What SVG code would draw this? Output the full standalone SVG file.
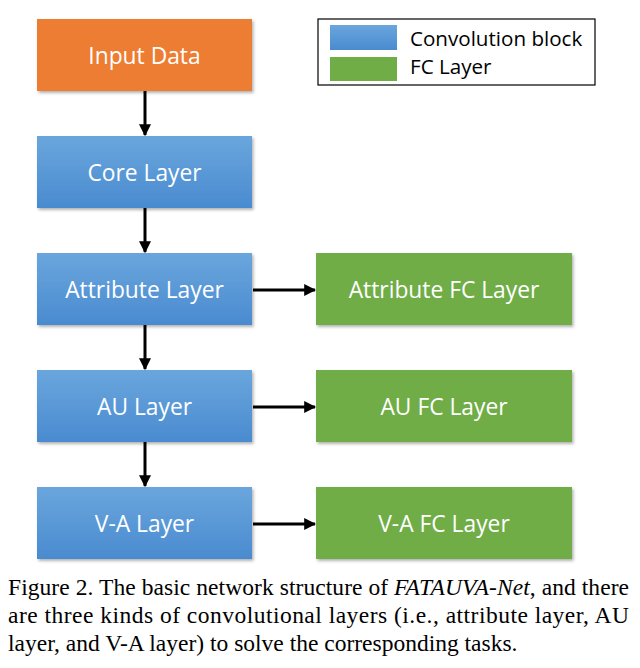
<svg xmlns="http://www.w3.org/2000/svg" width="640" height="668" viewBox="0 0 640 668">
<defs>
<linearGradient id="gb" x1="0" y1="0" x2="0" y2="1"><stop offset="0" stop-color="#6aa6dd"/><stop offset="1" stop-color="#4a8bd0"/></linearGradient>
<filter id="sh" x="-10%" y="-10%" width="125%" height="130%"><feDropShadow dx="1.5" dy="2" stdDeviation="1.5" flood-color="#000" flood-opacity="0.3"/></filter>
<marker id="ah" viewBox="0 0 10 10" refX="9" refY="5" markerWidth="4" markerHeight="4" orient="auto"><path d="M0,0 L10,5 L0,10 z" fill="#000"/></marker>
</defs>
<style>
.lbl{font-family:"Open Sans","Liberation Sans",sans-serif;font-size:22.8px;fill:#fff;text-anchor:middle;dominant-baseline:central}
.blue{fill:url(#gb);filter:url(#sh)}
.green{fill:#70ad47;filter:url(#sh)}
.orange{fill:#ed7d31;filter:url(#sh)}
.con{stroke:#000;stroke-width:3;fill:none;marker-end:url(#ah)}
.leg{font-family:"Open Sans","Liberation Sans",sans-serif;font-size:20.6px;fill:#000}
.cap{font-family:"Liberation Serif",serif;font-size:23.5px;fill:#000}
</style>
<rect width="640" height="668" fill="#fff"/>
<g id="input"><rect class="orange" x="37" y="19" width="215" height="72"/><text class="lbl" x="144.5" y="55">Input Data</text></g>
<g id="core"><rect class="blue" x="37" y="136" width="215" height="72"/><text class="lbl" x="144.5" y="172">Core Layer</text></g>
<g id="attr"><rect class="blue" x="37" y="253" width="215" height="72"/><text class="lbl" x="144.5" y="289">Attribute Layer</text></g>
<g id="au"><rect class="blue" x="37" y="370" width="215" height="72"/><text class="lbl" x="144.5" y="406">AU Layer</text></g>
<g id="va"><rect class="blue" x="37" y="487" width="215" height="72"/><text class="lbl" x="144.5" y="523">V-A Layer</text></g>
<g id="attrfc"><rect class="green" x="316" y="253" width="256" height="72"/><text class="lbl" x="444" y="289">Attribute FC Layer</text></g>
<g id="aufc"><rect class="green" x="316" y="370" width="256" height="72"/><text class="lbl" x="444" y="406">AU FC Layer</text></g>
<g id="vafc"><rect class="green" x="316" y="487" width="256" height="72"/><text class="lbl" x="444" y="523">V-A FC Layer</text></g>
<g id="connectors">
<line class="con" x1="145" y1="91" x2="145" y2="135"/>
<line class="con" x1="145" y1="208" x2="145" y2="252"/>
<line class="con" x1="145" y1="325" x2="145" y2="369"/>
<line class="con" x1="145" y1="442" x2="145" y2="486"/>
<line class="con" x1="253" y1="290" x2="315" y2="290"/>
<line class="con" x1="253" y1="407" x2="315" y2="407"/>
<line class="con" x1="253" y1="524" x2="315" y2="524"/>
</g>
<g id="legend">
<rect x="318" y="19" width="277" height="66" fill="#fff" stroke="#000" stroke-width="1.2"/>
<rect x="330" y="25" width="67" height="25" fill="url(#gb)"/>
<rect x="330" y="57" width="67" height="24" fill="#70ad47"/>
<text class="leg" x="410" y="46">Convolution block</text>
<text class="leg" x="410" y="74">FC Layer</text>
</g>
<g id="caption">
<text class="cap" x="8" y="595" textLength="621" lengthAdjust="spacing">Figure 2. The basic network structure of <tspan font-style="italic">FATAUVA-Net</tspan>, and there</text>
<text class="cap" x="8" y="623" textLength="621" lengthAdjust="spacing">are three kinds of convolutional layers (i.e., attribute layer, AU</text>
<text class="cap" x="8" y="651">layer, and V-A layer) to solve the corresponding tasks.</text>
</g>
</svg>
